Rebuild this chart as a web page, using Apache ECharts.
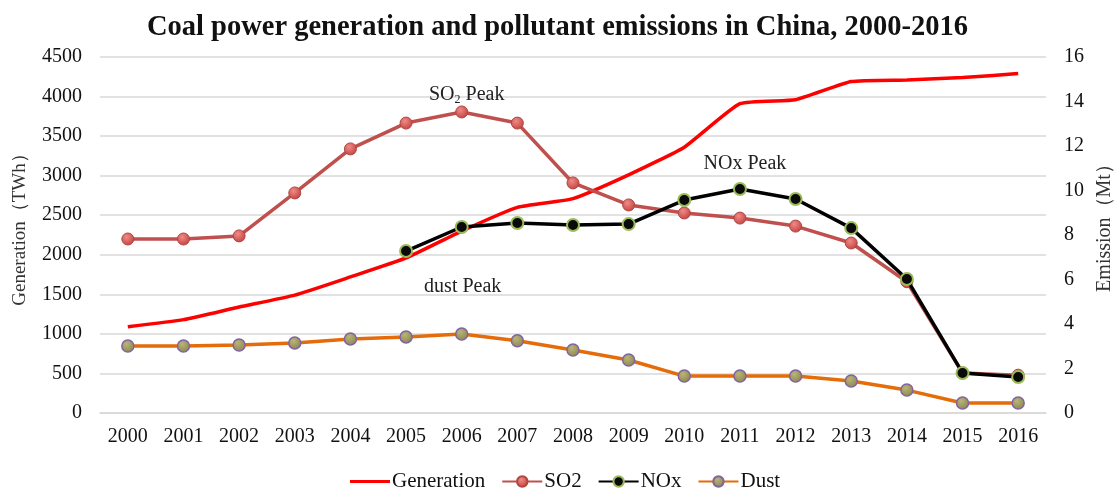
<!DOCTYPE html>
<html>
<head>
<meta charset="utf-8">
<script src="https://cdn.jsdelivr.net/npm/echarts@6/dist/echarts.min.js"></script>
<style>
  html, body { margin: 0; padding: 0; background: #fff; }
  #chart { width: 1115px; height: 488px; }
</style>
</head>
<body>
<div id="chart"></div>
<script>
// Years on the category axis
const years = ['2000','2001','2002','2003','2004','2005','2006','2007','2008',
               '2009','2010','2011','2012','2013','2014','2015','2016'];
// Coal power generation, TWh (left axis)
const generation = [1090, 1180, 1340, 1490, 1720, 1960, 2300, 2600, 2710,
                    3010, 3360, 3910, 3960, 4190, 4210, 4240, 4290];
// Emissions, Mt (right axis)
const so2  = [7.82, 7.82, 7.96, 9.89, 11.87, 13.03, 13.53, 13.03, 10.34,
              9.35, 8.99, 8.76, 8.40, 7.64, 5.90, 1.80, 1.70];
const nox  = [null, null, null, null, null, 7.28, 8.36, 8.54, 8.45,
              8.49, 9.57, 10.07, 9.62, 8.31, 6.02, 1.80, 1.62];
const dust = [3.01, 3.01, 3.06, 3.15, 3.33, 3.42, 3.55, 3.25, 2.83,
              2.38, 1.66, 1.66, 1.66, 1.44, 1.03, 0.45, 0.45];
// Peak annotations: series name, year index, label text
const peaks = [
  { series: 'SO2',  index: 6,  text: 'SO{sub|2} Peak', dist: 0,  dx: 5 },
  { series: 'NOx',  index: 11, text: 'NOx Peak',       dist: 8,  dx: 5 },
  { series: 'Dust', index: 6,  text: 'dust Peak',      dist: 31, dx: 1 }
];

const serif = '"Liberation Serif", "Times New Roman", serif';

function ball(inner, outer) {
  return {
    type: 'radial', x: 0.4, y: 0.35, r: 0.7,
    colorStops: [{ offset: 0, color: inner }, { offset: 1, color: outer }]
  };
}

function withPeaks(name, values) {
  return values.map((v, i) => {
    const p = peaks.find(k => k.series === name && k.index === i);
    if (!p) return v;
    return {
      value: v,
      label: {
        show: true, position: 'top', distance: p.dist, offset: [p.dx, 0],
        formatter: p.text,
        fontFamily: serif, fontSize: 20, color: '#222',
        rich: { sub: { fontFamily: serif, fontSize: 12, color: '#222', verticalAlign: 'bottom', padding: [10, 0, 0, 0] } }
      }
    };
  });
}

// Legend icon for the plain generation line (no marker)
const plainLine = 'path://M0,0L40,0Z M0,5L40,5L40,8L0,8Z M0,13L40,13Z';

const chart = echarts.init(document.getElementById('chart'), null, { renderer: 'canvas' });
chart.setOption({
  animation: false,
  backgroundColor: '#fff',
  title: {
    text: 'Coal power generation and pollutant emissions in China, 2000-2016',
    left: 'center', top: 8,
    textStyle: { fontFamily: serif, fontWeight: 'bold', fontSize: 28.5, color: '#111' }
  },
  legend: {
    top: 466, left: 345,
    itemWidth: 40, itemHeight: 13, itemGap: 16,
    textStyle: { fontFamily: serif, fontSize: 21, color: '#111', padding: [0, 0, 0, -3] },
    data: [{ name: 'Generation', icon: plainLine }, 'SO2', 'NOx', 'Dust']
  },
  grid: { left: 100, right: 69, top: 57, bottom: 75, outerBoundsMode: 'none' },
  xAxis: {
    type: 'category', data: years, boundaryGap: true,
    axisLine: { show: true, lineStyle: { color: '#d9d9d9', width: 1.5 } },
    axisTick: { show: false },
    axisLabel: { fontFamily: serif, fontSize: 20, color: '#111', margin: 14 }
  },
  yAxis: [
    {
      type: 'value', min: 0, max: 4500, interval: 500,
      name: 'Generation（TWh）', nameLocation: 'middle', nameGap: 70, nameRotate: 90,
      nameTextStyle: { fontFamily: serif, fontSize: 19, color: '#333', padding: [0, 0, 0, 20] },
      axisLine: { show: false }, axisTick: { show: false },
      axisLabel: { fontFamily: serif, fontSize: 20, color: '#111', margin: 18,
                   formatter: v => String(v) },
      splitLine: { lineStyle: { color: '#d9d9d9', width: 1.5 } }
    },
    {
      type: 'value', min: 0, max: 16, interval: 2, position: 'right',
      name: 'Emission（Mt）', nameLocation: 'middle', nameGap: 28, nameRotate: 90,
      nameTextStyle: { fontFamily: serif, fontSize: 20, color: '#333', padding: [0, 0, 0, 24] },
      axisLine: { show: false }, axisTick: { show: false },
      axisLabel: { fontFamily: serif, fontSize: 20, color: '#111', margin: 18,
                   formatter: v => String(v) },
      splitLine: { show: false }
    }
  ],
  series: [
    {
      name: 'Generation', type: 'line', yAxisIndex: 0, data: generation,
      symbol: 'none', smooth: 0.15,
      lineStyle: { color: '#ff0000', width: 3.5 },
      itemStyle: { color: '#ff0000' },
      z: 2
    },
    {
      name: 'SO2', type: 'line', yAxisIndex: 1, data: withPeaks('SO2', so2),
      symbol: 'circle', symbolSize: 12,
      lineStyle: { color: '#c0504d', width: 3.5 },
      itemStyle: { color: ball('#f08a87', '#c0403c'), borderColor: '#b04642', borderWidth: 1 },
      z: 3
    },
    {
      name: 'NOx', type: 'line', yAxisIndex: 1, data: withPeaks('NOx', nox),
      symbol: 'circle', symbolSize: 12, connectNulls: false,
      lineStyle: { color: '#000000', width: 3.5 },
      itemStyle: { color: '#0a0a0a', borderColor: '#9bbb59', borderWidth: 2 },
      z: 4
    },
    {
      name: 'Dust', type: 'line', yAxisIndex: 1, data: withPeaks('Dust', dust),
      symbol: 'circle', symbolSize: 12,
      lineStyle: { color: '#e46c0a', width: 3.5 },
      itemStyle: { color: ball('#b8b47a', '#8a864a'), borderColor: '#8064a2', borderWidth: 1.5 },
      z: 3
    }
  ]
});
</script>
</body>
</html>
